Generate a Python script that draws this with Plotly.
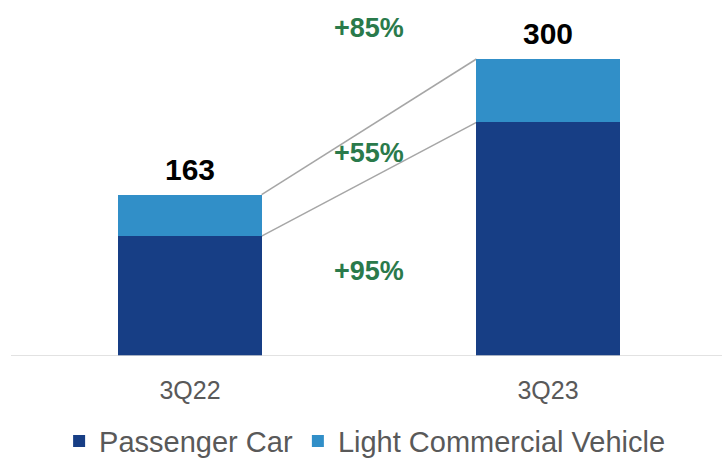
import plotly.graph_objects as go

# Quarterly sales volumes (thousand units) by vehicle type
quarters = ["3Q22", "3Q23"]
passenger_car = [121, 236]
light_commercial = [42, 64]
totals = [163, 300]

# Year-over-year growth labels: total, LCV, passenger car
growth_total = "+85%"
growth_lcv = "+55%"
growth_pc = "+95%"

DARK = "#173E85"
LIGHT = "#318FC8"
GREEN = "#2A7A4B"
FONT = "Liberation Sans, Arial, sans-serif"
BAR_W = 0.4

fig = go.Figure()
fig.add_trace(go.Bar(x=[0, 1], y=passenger_car, name="Passenger Car",
                     marker=dict(color=DARK, line=dict(width=0)), width=BAR_W))
fig.add_trace(go.Bar(x=[0, 1], y=light_commercial, name="Light Commercial Vehicle",
                     marker=dict(color=LIGHT, line=dict(width=0)), width=BAR_W))

# Connector lines between the stacked segments
half = BAR_W / 2
for y0, y1 in [(totals[0], totals[1]), (passenger_car[0], passenger_car[1])]:
    fig.add_shape(type="line", xref="x", yref="y", x0=0 + half, y0=y0, x1=1 - half, y1=y1,
                  line=dict(color="#A6A6A6", width=1.5), layer="below")

# Total labels above each bar
for i, t in enumerate(totals):
    fig.add_annotation(x=i, y=t, text=f"<b>{t}</b>", showarrow=False, yanchor="bottom",
                       yshift=7, font=dict(family=FONT, size=30, color="#000000"))

# Growth labels between the bars
for text, yv in [(growth_total, 331), (growth_lcv, 205), (growth_pc, 86)]:
    fig.add_annotation(x=0.5, y=yv, text=f"<b>{text}</b>", showarrow=False,
                       font=dict(family=FONT, size=27, color=GREEN))

fig.update_layout(
    barmode="stack",
    width=722, height=462,
    margin=dict(l=11, r=0, t=0, b=106, autoexpand=False),
    paper_bgcolor="white", plot_bgcolor="white",
    showlegend=True,
    legend=dict(orientation="h", x=0.505, xanchor="center", xref="container",
                y=0.045, yanchor="middle", yref="container",
                traceorder="normal", font=dict(family=FONT, size=29, color="#595959"),
                itemwidth=30, tracegroupgap=0),
    xaxis=dict(range=[-0.5, 1.486], tickmode="array", tickvals=[0, 1], ticktext=quarters,
               showgrid=False, zeroline=False, showline=False,
               ticks="outside", ticklen=12, tickcolor="rgba(0,0,0,0)",
               tickfont=dict(family=FONT, size=25, color="#595959")),
    yaxis=dict(range=[0, 359.6], visible=False, showgrid=False, zeroline=False),
    font=dict(family=FONT),
)
# Baseline along the category axis
fig.add_shape(type="line", xref="paper", yref="y", x0=0, x1=1, y0=0, y1=0,
              line=dict(color="#D9D9D9", width=1.5), layer="above")

fig.write_html("out.html")
